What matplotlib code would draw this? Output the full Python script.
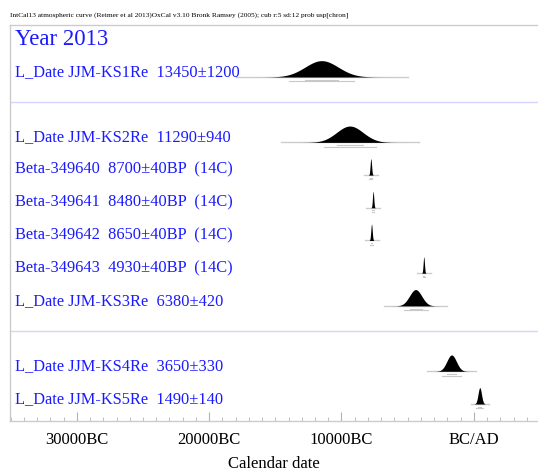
import numpy as np
import matplotlib
matplotlib.use("Agg")
import matplotlib.pyplot as plt

plt.rcParams['font.family'] = ['Liberation Serif', 'DejaVu Serif']

# ---- data ----
header = "IntCal13 atmospheric curve (Reimer et al 2013)OxCal v3.10 Bronk Ramsey (2005); cub r:5 sd:12 prob usp[chron]"

labels = ["Year 2013",
          "L_Date JJM-KS1Re  13450\u00b11200",
          "L_Date JJM-KS2Re  11290\u00b1940",
          "Beta-349640  8700\u00b140BP  (14C)",
          "Beta-349641  8480\u00b140BP  (14C)",
          "Beta-349642  8650\u00b140BP  (14C)",
          "Beta-349643  4930\u00b140BP  (14C)",
          "L_Date JJM-KS3Re  6380\u00b1420",
          "L_Date JJM-KS4Re  3650\u00b1330",
          "L_Date JJM-KS5Re  1490\u00b1140"]
# calibrated peak (calendar year, negative = BC) and spread in years
cal_mean = [None, -11500, -9370, -7780, -7610, -7730, -3780, -4400, -1680, 450]
cal_sigma = [None, 1250, 1000, 55, 50, 55, 50, 460, 360, 130]
# a new section starts before these entries (blank row + separator)
section_starts = [2, 8]

tick_years = [-30000, -20000, -10000, 0]
tick_labels = ["30000BC", "20000BC", "10000BC", "BC/AD"]

# ---- layout ----
fig = plt.figure(figsize=(5.38, 4.75), dpi=100)
ax = fig.add_axes([10 / 538, 1 - 421 / 475, 528 / 538, 396 / 475])

rows = []
r = 0
for i in range(len(labels)):
    if i in section_starts:
        ax.axhline(r - 0.08, color='#d4d4ff', lw=1)
        r += 1
    rows.append(r)
    r += 1

for lab, row, mu, sd in zip(labels, rows, cal_mean, cal_sigma):
    size = 16.5 if mu is None else 11.8
    ax.text(-34700, row, lab, color='#1a1aff', fontsize=size,
            va='center', ha='left')
    if mu is None:
        continue
    base = row + 0.16
    half = max(5.2 * sd, 530)
    xs = np.linspace(mu - half, mu + half, 600)
    dens = np.exp(-0.5 * ((xs - mu) / sd) ** 2)
    ax.plot([mu - half, mu + half], [base, base], color='#cccccc', lw=1, zorder=1)
    ax.fill_between(xs, base, base - 0.5 * dens, color='black', lw=0, zorder=2)
    # 68% and 95% ranges
    ax.plot([mu - sd, mu + sd], [base + 0.08, base + 0.08], color='#c8c8c8', lw=0.8)
    ax.plot([mu - 1.96 * sd, mu + 1.96 * sd], [base + 0.13, base + 0.13],
            color='#c8c8c8', lw=0.8)

ax.set_xlim(-35050, 4850)
ax.set_ylim(11.68, -0.43)

ax.set_xticks(tick_years)
ax.set_xticklabels(tick_labels, fontsize=12)
ax.set_xticks(np.arange(-35000, 5000, 1000), minor=True)
ax.tick_params(axis='x', which='major', direction='in', length=6.5, color='#b4b4b4', pad=8)
ax.tick_params(axis='x', which='minor', direction='in', length=3, color='#b4b4b4')
ax.set_yticks([])
ax.set_xlabel("Calendar date", fontsize=12, labelpad=6)

for s in ['left', 'bottom', 'top']:
    ax.spines[s].set_color('#cccccc')
    ax.spines[s].set_linewidth(1)
ax.spines['right'].set_visible(False)

fig.text(10 / 538, 1 - 15 / 475, header, fontsize=5.3, va='center', ha='left')

fig.savefig("out.png", dpi=100)
